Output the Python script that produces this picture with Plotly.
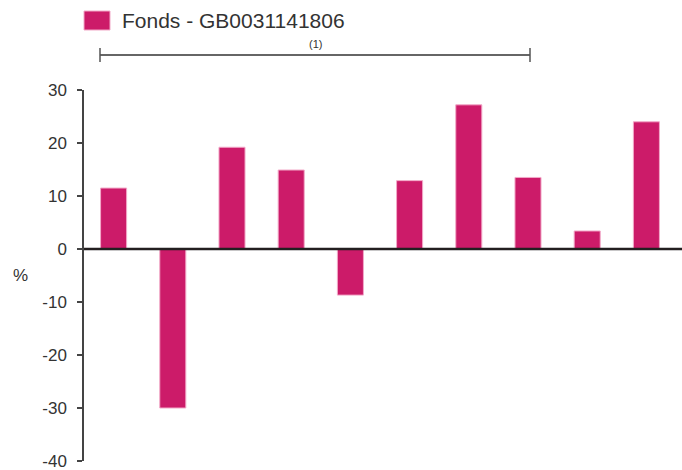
import plotly.graph_objects as go

categories = ["2007", "2008", "2009", "2010", "2011", "2012", "2013", "2014", "2015", "2016"]
fund_values = [11.5, -30.0, 19.2, 14.9, -8.7, 12.9, 27.2, 13.5, 3.4, 24.0]
series_name = "Fonds - GB0031141806"
y_ticks = [-40, -30, -20, -10, 0, 10, 20, 30]

BAR = "#CC1B69"
EDGE = "#F2A9C8"
TXT = "#333333"
FONT = "Liberation Sans, Arial, sans-serif"

W, H = 682, 470
ML, MR, MT, MB = 84, 6, 90, 9
PW, PH = W - ML - MR, H - MT - MB

def px_x(p):
    return (p - ML) / PW

def px_y(p):
    return 1 + (MT - p) / PH

fig = go.Figure()
fig.add_trace(go.Bar(
    x=categories, y=fund_values, name=series_name,
    marker=dict(color=BAR, line=dict(color=EDGE, width=1)),
    width=0.44, showlegend=False,
))

shapes = [
    # legend swatch
    dict(type="rect", xref="paper", yref="paper", x0=px_x(84), x1=px_x(110), y0=px_y(30), y1=px_y(11),
         fillcolor=BAR, line=dict(color=EDGE, width=1)),
    # bracket
    dict(type="line", xref="paper", yref="paper", x0=px_x(100), x1=px_x(530), y0=px_y(55), y1=px_y(55),
         line=dict(color="#333333", width=1.5)),
    dict(type="line", xref="paper", yref="paper", x0=px_x(100), x1=px_x(100), y0=px_y(48), y1=px_y(62),
         line=dict(color="#555555", width=1.5)),
    dict(type="line", xref="paper", yref="paper", x0=px_x(530), x1=px_x(530), y0=px_y(48), y1=px_y(62),
         line=dict(color="#555555", width=1.5)),
    # zero line
    dict(type="line", xref="paper", yref="y", x0=0, x1=px_x(682), y0=0, y1=0,
         line=dict(color="#231F20", width=2.5)),
]

annotations = [
    dict(text=series_name, xref="paper", yref="paper", x=px_x(120), y=px_y(20),
         xanchor="left", yanchor="middle", showarrow=False, font=dict(size=21, color=TXT, family=FONT)),
    dict(text="(1)", xref="paper", yref="paper", x=px_x(315), y=px_y(44),
         xanchor="center", yanchor="middle", showarrow=False, font=dict(size=11, color=TXT, family=FONT)),
    dict(text="%", xref="paper", yref="paper", x=px_x(20), y=px_y(275),
         xanchor="center", yanchor="middle", showarrow=False, font=dict(size=17, color=TXT, family=FONT)),
]

fig.update_layout(
    width=W, height=H,
    margin=dict(l=ML, r=MR, t=MT, b=MB, autoexpand=False),
    paper_bgcolor="white", plot_bgcolor="white",
    font=dict(family=FONT, color=TXT),
    shapes=shapes, annotations=annotations,
)
fig.update_xaxes(visible=False, range=[-0.5, 9.5], automargin=False)
fig.update_yaxes(
    range=[-40, 30], tickvals=y_ticks, ticktext=[str(v) for v in y_ticks],
    showgrid=False, zeroline=False, showline=True, linecolor="#444444", linewidth=1.5,
    ticks="outside", ticklen=5, tickcolor="#444444", tickwidth=1.5,
    tickfont=dict(size=17, color=TXT, family=FONT), ticklabelstandoff=7,
    ticklabeloverflow="allow", automargin=False,
)

fig.write_html(
    "out.html",
    config={"displayModeBar": False},
    post_script="document.body.style.margin='0';document.body.style.overflow='hidden';",
)
